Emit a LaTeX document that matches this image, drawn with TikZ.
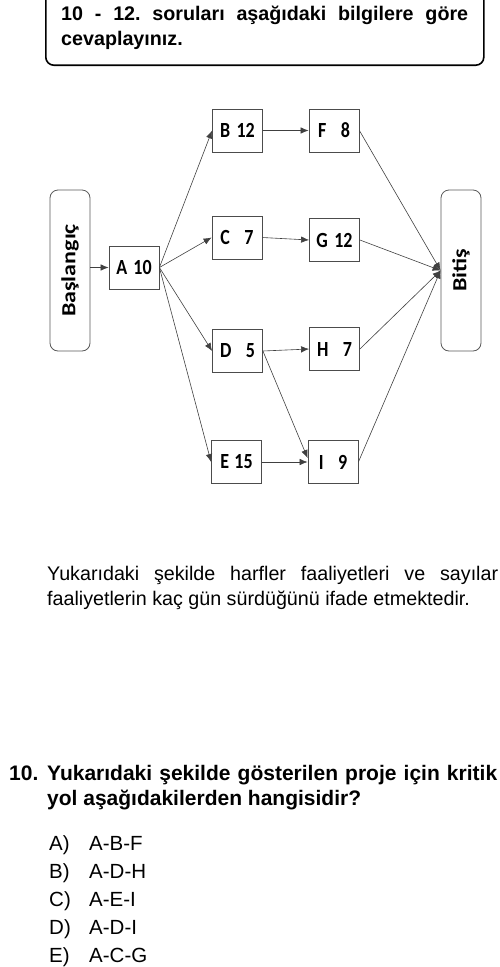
\documentclass[tikz,border=0pt]{standalone}
\usepackage{fontspec}
\usepackage{graphicx}
\setmainfont{Liberation Sans}
\newfontfamily\boxfont{Carlito}
\newcommand{\boxlab}[1]{\scalebox{1}[1.2]{#1}}
\newcommand{\termlab}[1]{\rotatebox{90}{\scalebox{1.2}[1]{#1}}}
\usetikzlibrary{arrows.meta}
\begin{document}
\begin{tikzpicture}[x=1pt,y=-1pt,
  act/.style={draw=black!70, line width=0.8pt, minimum width=50pt, minimum height=43pt, inner sep=0pt,
    font=\boxfont\bfseries\fontsize{18pt}{18pt}\selectfont},
  term/.style={draw=black!65, line width=0.8pt, rounded corners=8pt, minimum width=40pt, minimum height=161pt, inner sep=0pt,
    font=\boxfont\bfseries\fontsize{20pt}{20pt}\selectfont},
  arr/.style={draw=black!75, line width=0.6pt, -{Latex[length=8pt,width=6.5pt]}},
  txt/.style={anchor=base west, inner sep=0pt, font=\fontsize{19.7pt}{24pt}\selectfont},
  btxt/.style={anchor=base west, inner sep=0pt, font=\bfseries\fontsize{19.7pt}{24pt}\selectfont},
  qtxt/.style={anchor=base west, inner sep=0pt, font=\bfseries\fontsize{21pt}{25pt}\selectfont},
  otxt/.style={anchor=base west, inner sep=0pt, font=\fontsize{20.5pt}{25pt}\selectfont},
]
\useasboundingbox (0,0) rectangle (500,967);

% header box
\node[draw=black, line width=1.6pt, rounded corners=8pt, minimum width=438pt, minimum height=80pt,
  anchor=south west, inner sep=0pt] (hdr) at (45,66) {};
\node[btxt] (h1) at (61,20) {\makebox[407pt][s]{10 - 12.\ soruları aşağıdaki bilgilere göre}};
\node[btxt] (h2) at (61,45) {cevaplayınız.};

% network
\node[term] (S) at (70,270.5) {\termlab{Başlangıç}};
\node[term] (T) at (461,270.5) {\termlab{Bitiş}};
\node[act] (A) at (134,267.5) {\boxlab{A\hspace{0.35em}10}};
\node[act] (B) at (237.5,130.5) {\boxlab{B\hspace{0.35em}12}};
\node[act] (C) at (237,237.5) {\boxlab{C\hspace{0.8em}7}};
\node[act] (D) at (237.5,351) {\boxlab{D\hspace{0.8em}5}};
\node[act] (E) at (236.5,462) {\boxlab{E\hspace{0.3em}15}};
\node[act] (F) at (334,130.5) {\boxlab{F\hspace{0.8em}8}};
\node[act] (G) at (334.5,240) {\boxlab{G\hspace{0.35em}12}};
\node[act] (H) at (334.5,349) {\boxlab{H\hspace{0.8em}7}};
\node[act] (I) at (333,462) {\boxlab{I\hspace{0.8em}9}};

\draw[arr] (S.east |- A.west) -- (A.west);
\draw[arr] (A.east) -- (B.west);
\draw[arr] (A.east) -- (C.west);
\draw[arr] (A.east) -- (D.west);
\draw[arr] (A.east) -- (E.west);
\draw[arr] (B.east) -- (F.west);
\draw[arr] (C.east) -- (G.west);
\draw[arr] (D.east) -- (H.west);
\draw[arr] (D.east) -- ([yshift=4pt]I.west);
\draw[arr] (E.east) -- (I.west);
\draw[arr] (F.east) -- (T.west);
\draw[arr] (G.east) -- (T.west);
\draw[arr] (H.east) -- (T.west);
\draw[arr] (I.east) -- (T.west);

% body text
\node[txt] (p1) at (47,580) {\makebox[451pt][s]{Yukarıdaki şekilde harfler faaliyetleri ve sayılar}};
\node[txt] (p2) at (47,605) {faaliyetlerin kaç gün sürdüğünü ifade etmektedir.};

% question
\node[qtxt] (qn) at (9,780) {10.};
\node[qtxt] (q1) at (47,780) {\makebox[450pt][s]{Yukarıdaki şekilde gösterilen proje için kritik}};
\node[qtxt] (q2) at (47,805) {yol aşağıdakilerden hangisidir?};

\node[otxt] (oa) at (49,850) {A)};
\node[otxt] (ob) at (49,878) {B)};
\node[otxt] (oc) at (49,906) {C)};
\node[otxt] (od) at (49,934) {D)};
\node[otxt] (oe) at (49,962) {E)};
\node[otxt] (ta) at (89,850) {A-B-F};
\node[otxt] (tb) at (89,878) {A-D-H};
\node[otxt] (tc) at (89,906) {A-E-I};
\node[otxt] (td) at (89,934) {A-D-I};
\node[otxt] (te) at (89,962) {A-C-G};
\end{tikzpicture}
\end{document}
